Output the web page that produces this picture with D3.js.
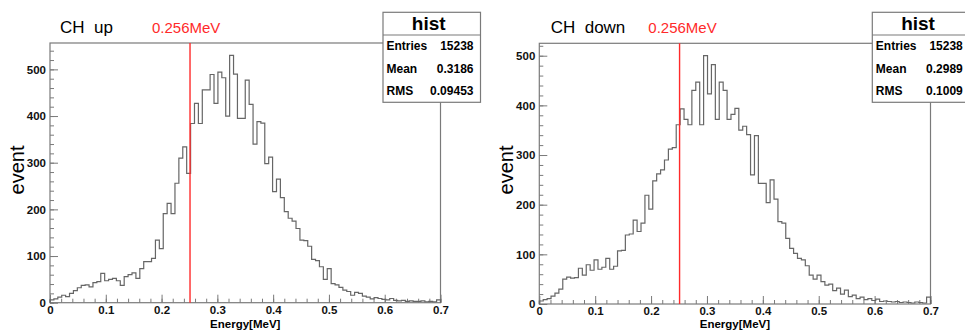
<!DOCTYPE html>
<html>
<head>
<meta charset="utf-8">
<script src="https://cdn.jsdelivr.net/npm/d3@7"></script>
<style>
  body { margin: 0; background: #fff; }
  svg { display: block; font-family: "Liberation Sans", Arial, sans-serif; }
</style>
</head>
<body>
<svg id="chart" width="965" height="331"></svg>
<script>
// histogram binning (ROOT style, 100 bins over 0 - 0.7 MeV)
const nBins = 100
const xMin = 0
const xMax = 0.7

// bin contents
const countsUp = [
  6, 8, 12, 16, 13, 20, 26, 32, 37, 38,
  34, 43, 45, 63, 47, 50, 52, 47, 37, 56,
  60, 64, 52, 73, 88, 88, 95, 134, 116, 191,
  213, 191, 256, 310, 334, 277, 384, 427, 384, 456,
  456, 489, 427, 494, 482, 400, 530, 490, 395, 395,
  477, 425, 340, 388, 385, 298, 312, 238, 265, 225,
  195, 181, 175, 159, 134, 133, 121, 93, 90, 77,
  50, 73, 41, 38, 33, 27, 24, 16, 22, 20,
  14, 12, 8, 11, 9, 7, 6, 9, 5, 4,
  5, 3, 4, 3, 3, 4, 2, 3, 2, 6
]
const countsDown = [
  6, 9, 11, 16, 22, 30, 50, 54, 52, 53,
  72, 58, 79, 68, 89, 70, 74, 92, 70, 76,
  107, 108, 139, 141, 169, 146, 163, 219, 191, 248,
  262, 270, 290, 312, 315, 361, 393, 372, 361, 430,
  447, 361, 500, 423, 482, 372, 447, 430, 372, 382,
  394, 350, 358, 341, 260, 339, 243, 243, 204, 250,
  211, 166, 163, 132, 112, 102, 92, 89, 77, 58,
  50, 58, 45, 38, 40, 27, 32, 20, 28, 15,
  18, 11, 14, 9, 11, 7, 10, 5, 6, 5,
  4, 5, 3, 4, 3, 2, 4, 3, 2, 14
]

const xTicks = [0, 0.1, 0.2, 0.3, 0.4, 0.5, 0.6, 0.7]
const yTicks = [0, 100, 200, 300, 400, 500]

const titles = ["CH  up", "CH  down"]
const cutLabel = "0.256MeV"
const cutLinePos = 0.251   // where the red line actually sits on the axis

const statNames = ["Entries", "Mean", "RMS"]
const statsUp = ["15238", "0.3186", "0.09453"]
const statsDown = ["15238", "0.2989", "0.1009"]

const frameColor = "#7a7a7a"
const histColor = "#666"

const svg = d3.select("#chart")

// pixel layout of the two pads (not data)
const pads = [
  { counts: countsUp, stats: statsUp, title: titles[0],
    x0: 50, x1: 440.5, y0: 43, y1: 302.7, titleX: 60, cutX: 152, box: 383 },
  { counts: countsDown, stats: statsDown, title: titles[1],
    x0: 539.3, x1: 930.5, y0: 43.3, y1: 304, titleX: 550.7, cutX: 648.3, box: 872.3 }
]

pads.forEach(p => drawPad(p))

function drawPad(p) {
  const binW = (xMax - xMin) / nBins

  const x = d3.scaleLinear().domain([xMin, xMax]).range([p.x0, p.x1])
  // ROOT puts the maximum at 1.05 x the tallest bin
  const yTop = d3.max(p.counts) * 1.05
  const y = d3.scaleLinear().domain([0, yTop]).range([p.y1, p.y0])

  const g = svg.append("g")

  // minor ticks
  const xMinor = d3.range(0, 0.7001, 0.02)
  g.append("g")
      .attr("transform", `translate(0,${p.y1})`)
      .call(d3.axisBottom(x).tickValues(xMinor).tickSize(-4).tickFormat(""))
      .call(a => a.select(".domain").remove())
      .call(a => a.selectAll(".tick line").attr("stroke", frameColor))

  const yMinor = d3.range(0, yTop, 20)
  g.append("g")
      .attr("transform", `translate(${p.x0},0)`)
      .call(d3.axisLeft(y).tickValues(yMinor).tickSize(-4).tickFormat(""))
      .call(a => a.select(".domain").remove())
      .call(a => a.selectAll(".tick line").attr("stroke", frameColor))

  // major ticks + labels
  g.append("g")
      .attr("transform", `translate(0,${p.y1})`)
      .call(d3.axisBottom(x).tickValues(xTicks).tickSize(-8).tickPadding(3)
          .tickFormat(d => d === 0 ? "0" : d3.format(".1f")(d)))
      .call(a => a.select(".domain").remove())
      .call(a => a.selectAll(".tick line").attr("stroke", frameColor))
      .call(a => a.selectAll("text")
          .attr("font-family", "Liberation Sans, Arial, sans-serif")
          .attr("font-size", 11.5).attr("font-weight", "bold").attr("fill", "#111"))

  g.append("g")
      .attr("transform", `translate(${p.x0},0)`)
      .call(d3.axisLeft(y).tickValues(yTicks).tickSize(-8).tickPadding(4))
      .call(a => a.select(".domain").remove())
      .call(a => a.selectAll(".tick line").attr("stroke", frameColor))
      .call(a => a.selectAll("text")
          .attr("font-family", "Liberation Sans, Arial, sans-serif")
          .attr("font-size", 11.5).attr("font-weight", "bold").attr("fill", "#111"))

  // frame
  g.append("rect")
      .attr("x", p.x0).attr("y", p.y0)
      .attr("width", p.x1 - p.x0).attr("height", p.y1 - p.y0)
      .attr("fill", "none")
      .attr("stroke", frameColor)
      .attr("stroke-width", 1.2)

  // histogram outline
  const pts = [[xMin, 0]]
  p.counts.forEach((c, i) => pts.push([xMin + i * binW, c]))
  pts.push([xMax, p.counts[nBins - 1]])
  pts.push([xMax, 0])

  const line = d3.line()
      .x(d => x(d[0]))
      .y(d => y(d[1]))
      .curve(d3.curveStepAfter)

  g.append("path")
      .datum(pts)
      .attr("d", line)
      .attr("fill", "none")
      .attr("stroke", histColor)
      .attr("stroke-width", 1.2)

  // red cut line
  g.append("line")
      .attr("x1", x(cutLinePos)).attr("x2", x(cutLinePos))
      .attr("y1", p.y0).attr("y2", p.y1)
      .attr("stroke", "#ff2a2a")
      .attr("stroke-width", 1.4)

  // titles
  g.append("text")
      .attr("x", p.titleX).attr("y", 33)
      .attr("font-size", 17)
      .style("white-space", "pre")
      .text(p.title)

  g.append("text")
      .attr("x", p.cutX).attr("y", 33)
      .attr("font-size", 15)
      .attr("fill", "#ff2a2a")
      .text(cutLabel)

  // axis titles
  g.append("text")
      .attr("x", (p.x0 + p.x1) / 2).attr("y", 327.5)
      .attr("text-anchor", "middle")
      .attr("font-size", 11.5).attr("font-weight", "bold")
      .text("Energy[MeV]")

  g.append("text")
      .attr("transform", `translate(${p.x0 - 26.5},170) rotate(-90)`)
      .attr("text-anchor", "middle")
      .attr("font-size", 20)
      .text("event")

  // stats box
  const bw = 97.5
  const box = g.append("g")
  box.append("rect")
      .attr("x", p.box).attr("y", 12.3)
      .attr("width", bw).attr("height", 90)
      .attr("fill", "#fff")
      .attr("stroke", frameColor)
      .attr("stroke-width", 1.2)
  box.append("line")
      .attr("x1", p.box).attr("x2", p.box + bw)
      .attr("y1", 35).attr("y2", 35)
      .attr("stroke", frameColor)
      .attr("stroke-width", 1.2)
  box.append("text")
      .attr("x", p.box + bw / 2 - 3).attr("y", 30)
      .attr("text-anchor", "middle")
      .attr("font-size", 19).attr("font-weight", "bold")
      .text("hist")

  statNames.forEach((name, i) => {
    const by = 50 + i * 22.5
    box.append("text")
        .attr("x", p.box + 3.5).attr("y", by)
        .attr("font-size", 12).attr("font-weight", "bold")
        .text(name)
    box.append("text")
        .attr("x", p.box + bw - 7).attr("y", by)
        .attr("text-anchor", "end")
        .attr("font-size", 12).attr("font-weight", "bold")
        .text(p.stats[i])
  })
}
</script>
</body>
</html>
